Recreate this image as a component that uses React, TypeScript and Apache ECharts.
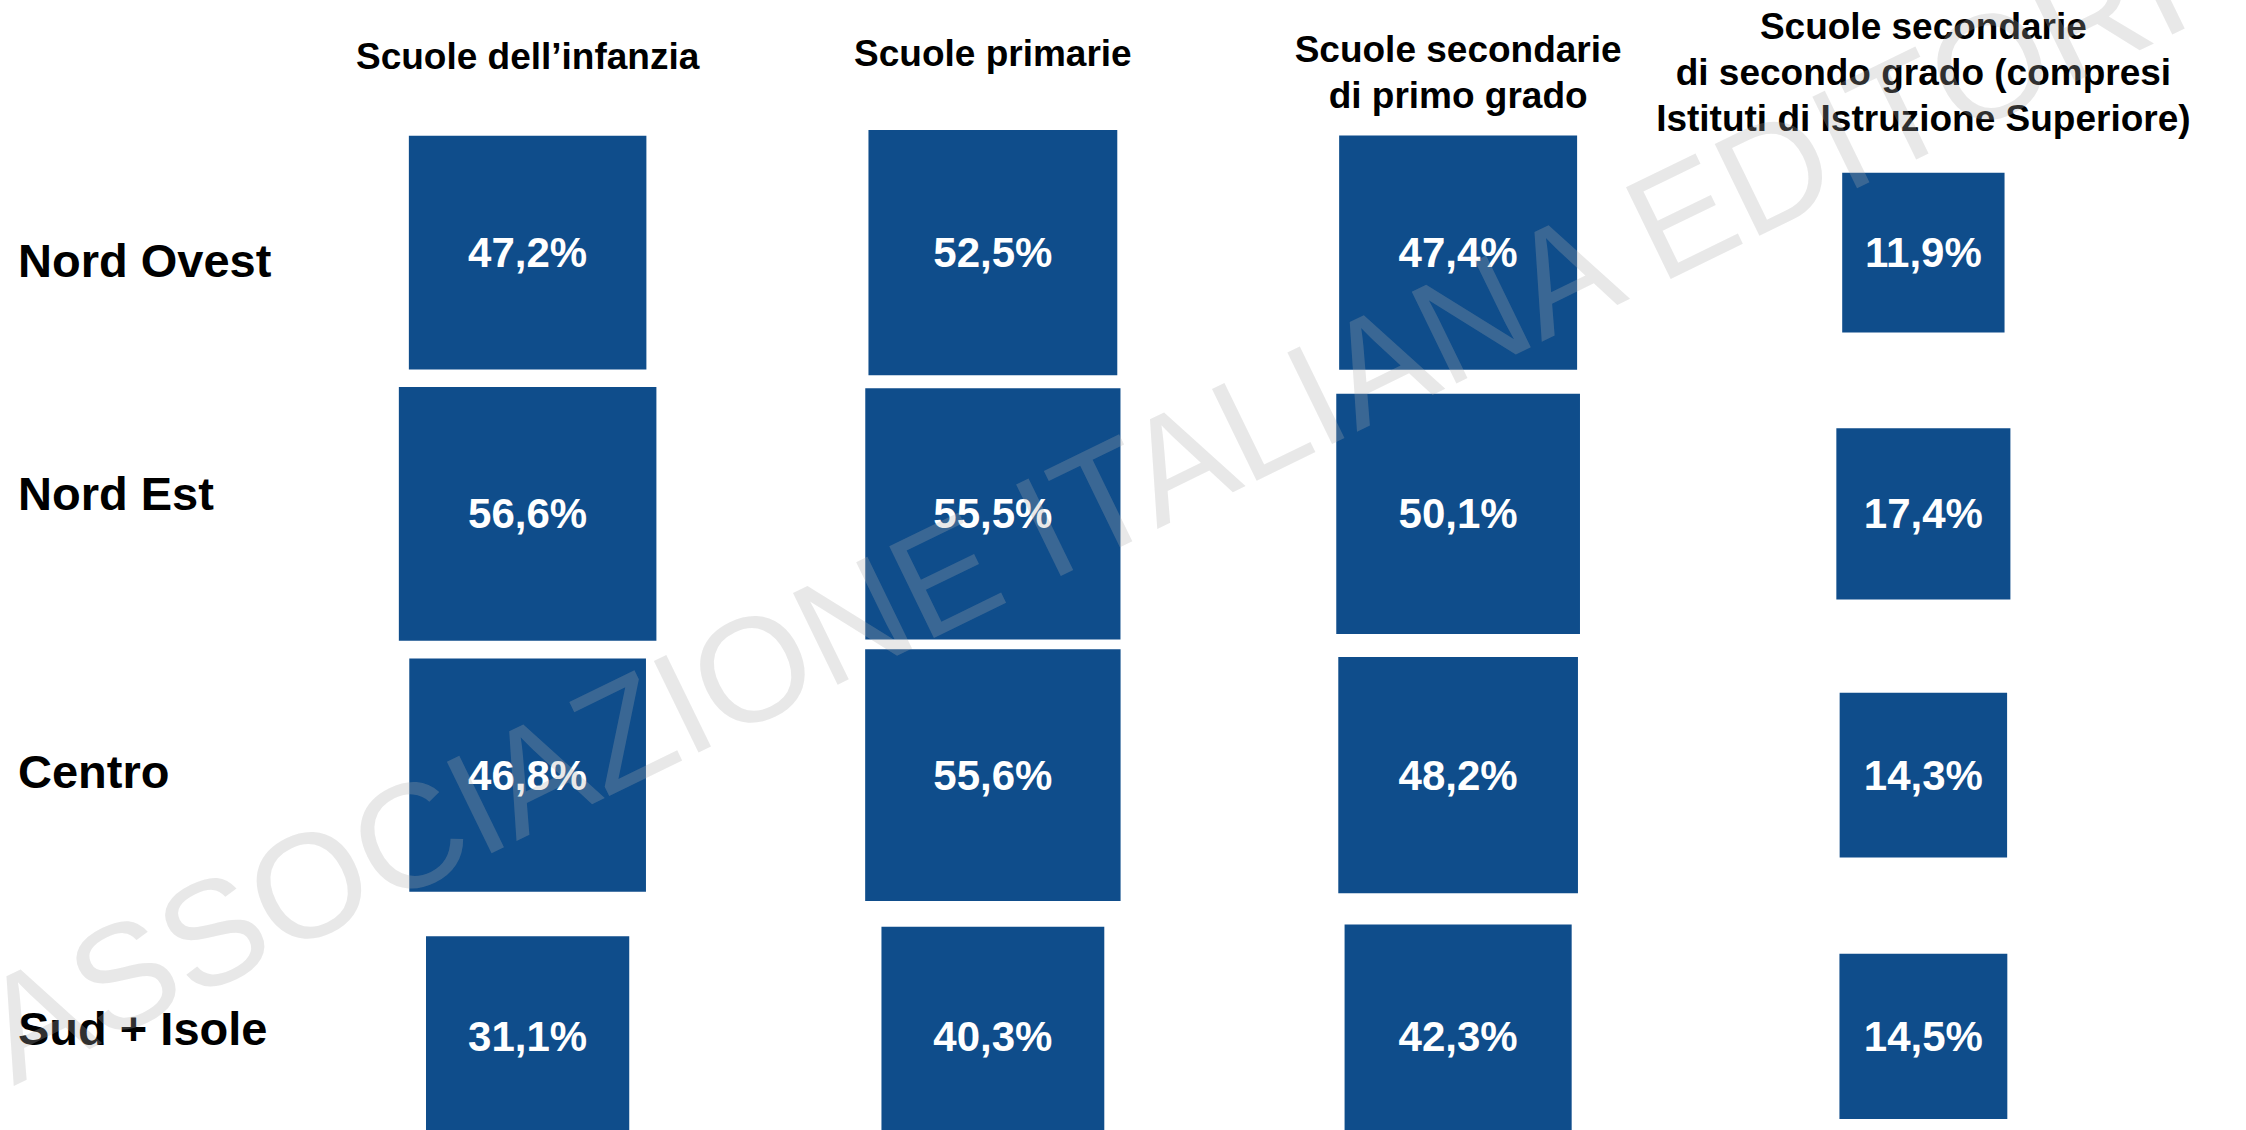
import React, { useEffect, useRef } from "react";
import * as echarts from "echarts";

const SCHOOL_TYPES = [
  "Scuole dell’infanzia",
  "Scuole primarie",
  "Scuole secondarie\ndi primo grado",
  "Scuole secondarie\ndi secondo grado (compresi\nIstituti di Istruzione Superiore)",
];
const REGIONS = ["Nord Ovest", "Nord Est", "Centro", "Sud + Isole"];

const INFANZIA = [47.2, 56.6, 46.8, 31.1];
const PRIMARIE = [52.5, 55.5, 55.6, 40.3];
const SECONDARIA_PRIMO = [47.4, 50.1, 48.2, 42.3];
const SECONDARIA_SECONDO = [11.9, 17.4, 14.3, 14.5];

const WATERMARK = "ASSOCIAZIONE ITALIANA EDITORI";

const FONT = "'Liberation Sans', Arial, Helvetica, sans-serif";
const BOX_COLOR = "#0f4d8b";

// vertical nudges (px) of the header / row labels, as laid out in the original slide
const HEADER_SHIFT = [-16, -19, 2, -3];
const ROW_SHIFT = [8, -20, -4, -8];

export default function App() {
  const ref = useRef<HTMLDivElement>(null);

  useEffect(() => {
    if (!ref.current) return;
    const chart = echarts.init(ref.current, undefined, { renderer: "svg" });

    const columns = [INFANZIA, PRIMARIE, SECONDARIA_PRIMO, SECONDARIA_SECONDO];
    const data: any[] = [];
    columns.forEach((col, ci) => {
      col.forEach((v, ri) => {
        data.push([SCHOOL_TYPES[ci], REGIONS[ri], v]);
      });
    });

    const sideOf = (v: number) => 137 + 2.13 * v;

    const headerStyle = {
      align: "center",
      verticalAlign: "middle",
      fontSize: 37,
      lineHeight: 46,
      fontWeight: "bold",
      color: "#000000",
      fontFamily: FONT,
    };
    const headerItemStyle = (name: string, shift: number) => {
      const multiLine = name.indexOf("\n") >= 0;
      if (multiLine || Math.abs(shift) < 3) return headerStyle;
      return {
        ...headerStyle,
        verticalAlign: shift >= 0 ? "top" : "bottom",
        lineHeight: Math.abs(2 * shift),
      };
    };
    const rowStyle = {
      align: "left",
      verticalAlign: "middle",
      fontSize: 47,
      lineHeight: 54,
      fontWeight: "bold",
      color: "#000000",
      fontFamily: FONT,
    };
    const rowItemStyle = (shift: number) => ({
      ...rowStyle,
      verticalAlign: shift >= 0 ? "top" : "bottom",
      lineHeight: Math.max(2, Math.abs(2 * shift)),
    });

    chart.setOption({
      animation: false,
      backgroundColor: "#ffffff",
      grid: {
        left: 295,
        top: 122,
        width: 1861,
        height: 1045,
        containLabel: false,
        outerBoundsMode: "none",
      },
      xAxis: {
        type: "category",
        position: "top",
        data: SCHOOL_TYPES.map((name, i) => ({
          value: name,
          textStyle: headerItemStyle(name, HEADER_SHIFT[i]),
        })),
        axisLine: { show: false },
        axisTick: { show: false },
        splitLine: { show: false },
        axisLabel: { interval: 0, margin: 50, ...headerStyle },
      },
      yAxis: {
        type: "category",
        inverse: true,
        data: REGIONS.map((name, i) => ({
          value: name,
          textStyle: rowItemStyle(ROW_SHIFT[i]),
        })),
        axisLine: { show: false },
        axisTick: { show: false },
        splitLine: { show: false },
        axisLabel: { interval: 0, margin: 277, ...rowStyle },
      },
      series: [
        {
          type: "scatter",
          symbol: "rect",
          clip: false,
          symbolSize: (d: number[]) => {
            const s = sideOf(d[2]);
            return [s, s * 0.985];
          },
          itemStyle: { color: BOX_COLOR, opacity: 1 },
          label: {
            show: true,
            position: "inside",
            color: "#ffffff",
            fontSize: 42,
            fontWeight: "bold",
            fontFamily: FONT,
            formatter: (p: any) => p.value[2].toFixed(1).replace(".", ",") + "%",
          },
          emphasis: { disabled: true },
          data,
        },
      ],
      graphic: [
        {
          type: "text",
          x: -9,
          y: 1040,
          rotation: (26 * Math.PI) / 180,
          z: 100,
          silent: true,
          style: {
            text: WATERMARK,
            fontSize: 148,
            fontFamily: FONT,
            fontWeight: "normal",
            fill: "rgba(171,171,171,0.28)",
            align: "left",
            verticalAlign: "middle",
            textAlign: "left",
            textVerticalAlign: "middle",
          },
        },
      ],
    });

    return () => chart.dispose();
  }, []);

  return (
    <div
      ref={ref}
      style={{ position: "absolute", left: 0, top: 0, width: 2246, height: 1130 }}
    />
  );
}
